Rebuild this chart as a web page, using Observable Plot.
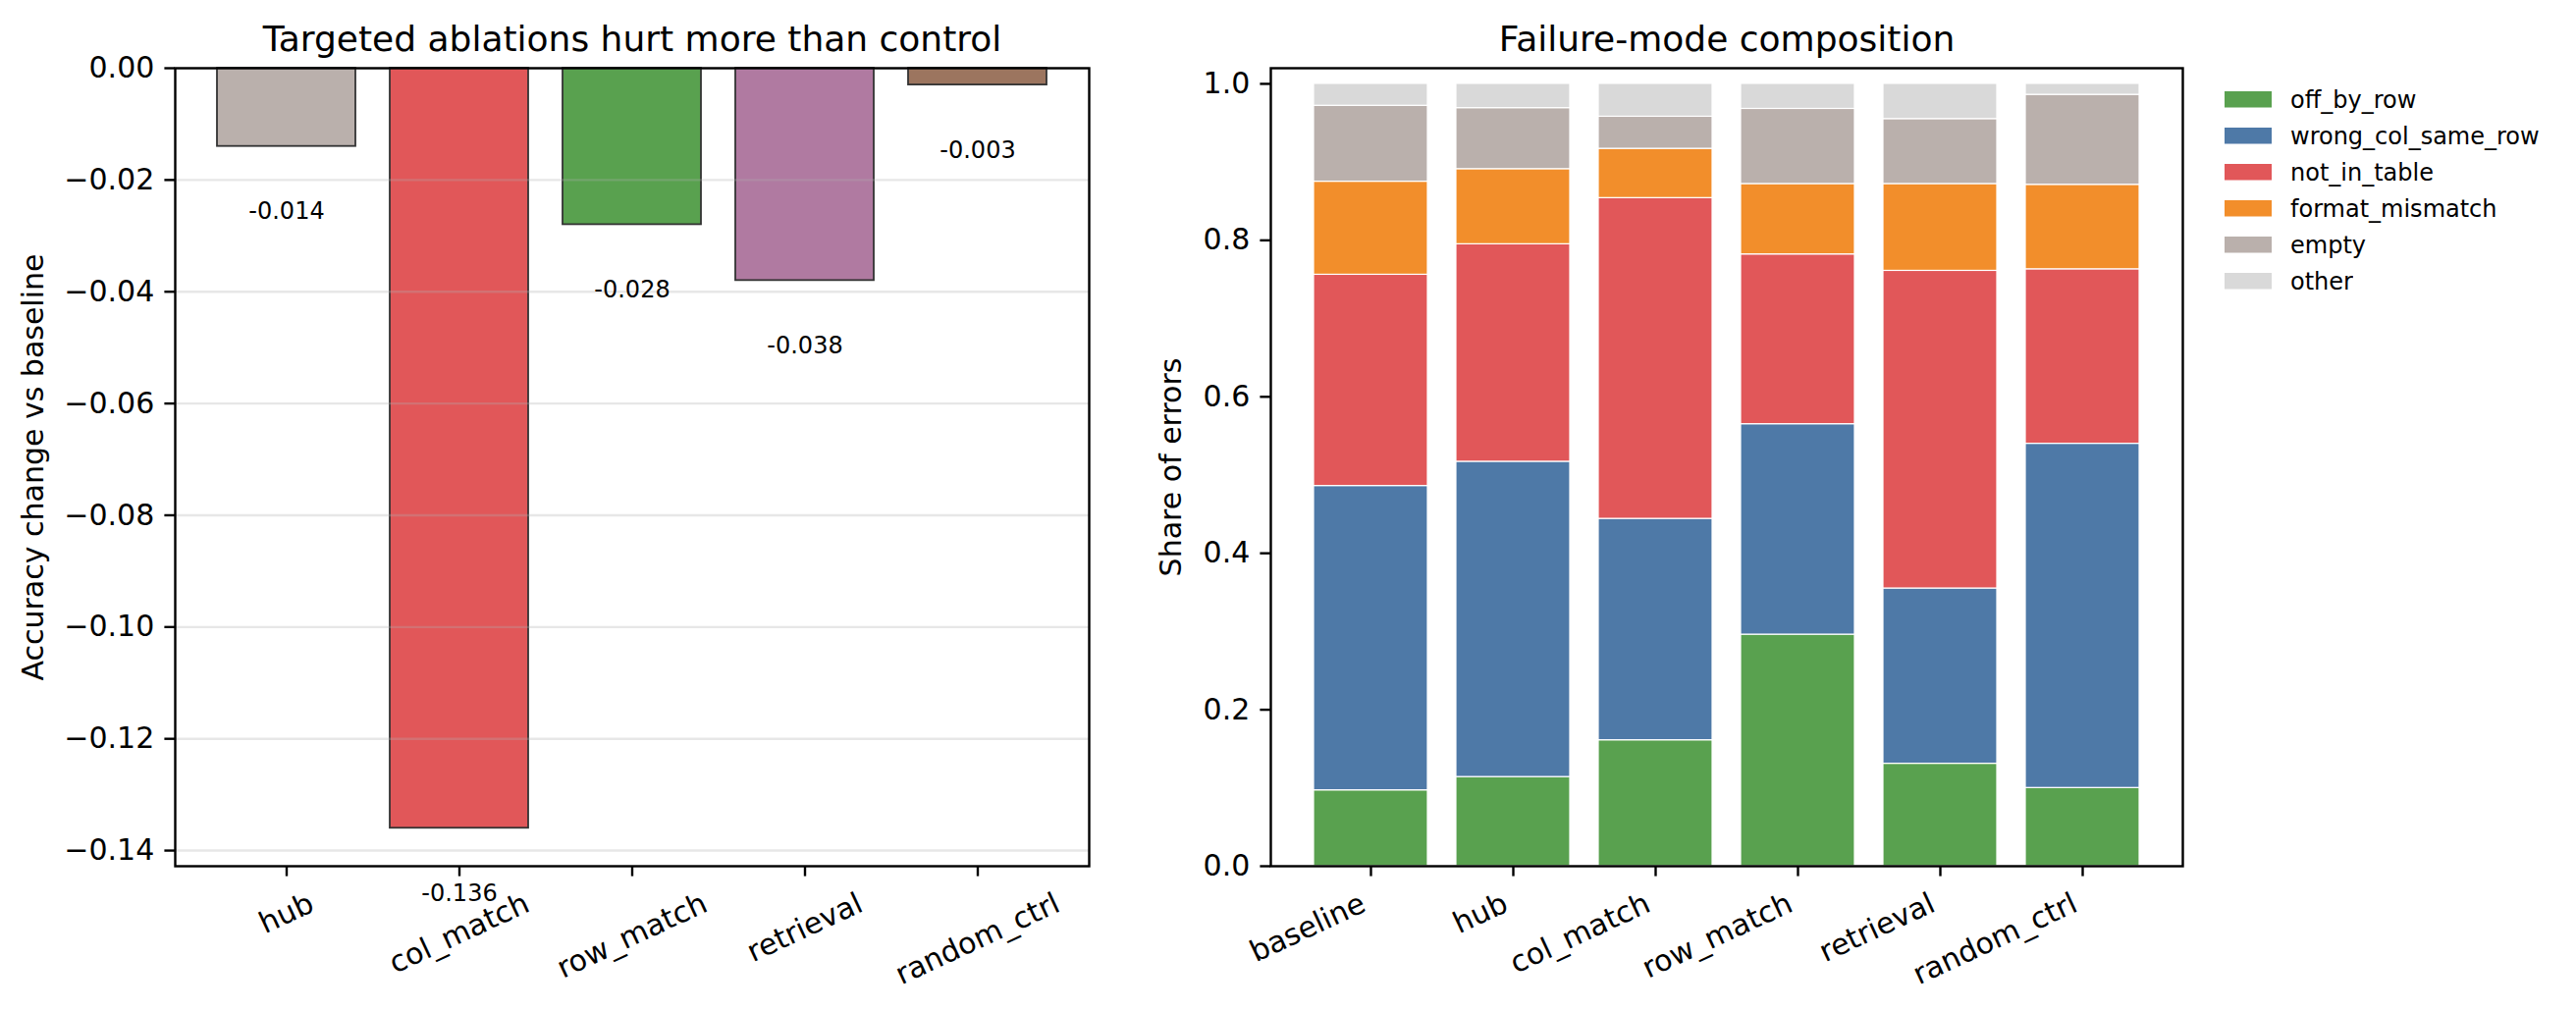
<!DOCTYPE html>
<html>
<head>
<meta charset="utf-8">
<script src="https://cdn.jsdelivr.net/npm/d3@7"></script>
<script src="https://cdn.jsdelivr.net/npm/@observablehq/plot@0.6"></script>
<style>
  html, body { margin: 0; padding: 0; background: #fff; }
  #page { position: relative; width: 2624px; height: 1030px; overflow: hidden; background: #fff; }
  #left, #right { position: absolute; top: 0; }
  #left { left: 0; }
  #right { left: 1130px; }
  #legend { position: absolute; left: 2266px; top: 83px; }
  #legend * { font-family: "DejaVu Sans", sans-serif !important; font-size: 24px !important; color: #000 !important; }
  #legend > div { margin: 0 !important; }
  .modes-swatch { height: 37px !important; display: flex !important; align-items: center !important; padding: 0 !important; margin: 0 !important; white-space: nowrap; }
  .modes-swatch > svg { margin-right: 19px !important; }
</style>
</head>
<body>
<div id="page">
  <div id="left"></div>
  <div id="right"></div>
  <div id="legend"></div>
</div>
<script>
// Accuracy change of each ablation relative to the unablated baseline
const ablations = ["hub", "col_match", "row_match", "retrieval", "random_ctrl"];
const accuracyDelta = [-0.014, -0.136, -0.028, -0.038, -0.003];
const deltaTicks = [0, -0.02, -0.04, -0.06, -0.08, -0.10, -0.12, -0.14];

// Share of each failure mode among the errors of every condition
const conditions = ["baseline", "hub", "col_match", "row_match", "retrieval", "random_ctrl"];
const failureModes = ["off_by_row", "wrong_col_same_row", "not_in_table", "format_mismatch", "empty", "other"];
const offByRow        = [0.097, 0.114, 0.161, 0.296, 0.131, 0.100];
const wrongColSameRow = [0.389, 0.403, 0.283, 0.269, 0.224, 0.440];
const notInTable      = [0.270, 0.278, 0.410, 0.217, 0.406, 0.223];
const formatMismatch  = [0.119, 0.096, 0.063, 0.090, 0.111, 0.108];
const emptyAnswer     = [0.097, 0.078, 0.041, 0.096, 0.083, 0.115];
const otherError      = [0.028, 0.031, 0.042, 0.032, 0.045, 0.014];
const shareTicks = [0, 0.2, 0.4, 0.6, 0.8, 1.0];

// Styling
const FONT = "'DejaVu Sans', sans-serif";
const ablationColours = ["#bab0ac", "#e15759", "#59a14f", "#b07aa1", "#9c755f"];
const modeColours = ["#59a14f", "#4e79a7", "#e15759", "#f28e2b", "#bab0ac", "#d9d9d9"];
const TITLE_SIZE = 36, LABEL_SIZE = 30, SMALL_SIZE = 24;
const TICK = 10.6, LINE = 2.4, ROTATE = -25;
const TICK_LABEL_TOP = 902; // top of the rotated tick-label boxes, below the axis

const deltaRows = ablations.map((a, i) => ({ablation: a, delta: accuracyDelta[i]}));
const modeShares = [offByRow, wrongColSameRow, notInTable, formatMismatch, emptyAnswer, otherError];
const shareRows = conditions.flatMap((c, i) =>
  failureModes.map((m, j) => ({condition: c, mode: m, share: modeShares[j][i]})));

const baseStyle = {fontFamily: FONT, fontSize: LABEL_SIZE + "px", color: "#000", background: "#fff", overflow: "visible"};

const left = Plot.plot({
  width: 1130, height: 1030,
  marginLeft: 178, marginRight: 21, marginTop: 69, marginBottom: 148,
  style: baseStyle,
  x: {domain: ablations, paddingInner: 0.2, paddingOuter: 0.24},
  y: {domain: [-0.1428, 0]},
  color: {domain: ablations, range: ablationColours},
  marks: [
    Plot.barY(deltaRows, {x: "ablation", y: "delta", fill: "ablation", stroke: "#333", strokeWidth: 1.8}),
    Plot.ruleY(deltaTicks, {stroke: "#b0b0b0", strokeOpacity: 0.3, strokeWidth: LINE}),
    Plot.text(deltaRows, {x: "ablation", y: d => d.delta - 0.01, text: d => d.delta.toFixed(3),
      lineAnchor: "top", fontSize: SMALL_SIZE, fill: "#000"}),
    Plot.axisY({ticks: deltaTicks, tickFormat: d3.format(".2f"), tickSize: TICK, tickPadding: TICK,
      strokeWidth: LINE, label: null}),
    Plot.axisX({tickSize: TICK, tickRotate: ROTATE, strokeWidth: LINE, label: null}),
    Plot.frame({stroke: "#000", strokeWidth: LINE}),
    Plot.text(["Targeted ablations hurt more than control"], {frameAnchor: "top", dy: -17.5,
      lineAnchor: "bottom", fontSize: TITLE_SIZE, fill: "#000"}),
    Plot.text(["Accuracy change vs baseline"], {frameAnchor: "left", dx: -135, rotate: -90,
      textAnchor: "middle", lineAnchor: "bottom", fontSize: LABEL_SIZE, fill: "#000"})
  ]
});
document.getElementById("left").appendChild(left);

const right = Plot.plot({
  width: 1494, height: 1030,
  marginLeft: 164, marginRight: 401, marginTop: 69, marginBottom: 148,
  style: baseStyle,
  x: {domain: conditions, paddingInner: 0.2, paddingOuter: 0.29},
  y: {domain: [0, 1.02]},
  color: {domain: failureModes, range: modeColours},
  marks: [
    Plot.barY(shareRows, Plot.stackY({x: "condition", y: "share", fill: "mode", order: failureModes,
      stroke: "#fff", strokeWidth: 1.2})),
    Plot.axisY({ticks: shareTicks, tickFormat: d3.format(".1f"), tickSize: TICK, tickPadding: TICK,
      strokeWidth: LINE, label: null}),
    Plot.axisX({tickSize: TICK, tickRotate: ROTATE, strokeWidth: LINE, label: null}),
    Plot.frame({stroke: "#000", strokeWidth: LINE}),
    Plot.text(["Failure-mode composition"], {frameAnchor: "top", dy: -17.5,
      lineAnchor: "bottom", fontSize: TITLE_SIZE, fill: "#000"}),
    Plot.text(["Share of errors"], {frameAnchor: "left", dx: -92, rotate: -90,
      textAnchor: "middle", lineAnchor: "bottom", fontSize: LABEL_SIZE, fill: "#000"})
  ]
});
document.getElementById("right").appendChild(right);

const legend = Plot.legend({
  color: {domain: failureModes, range: modeColours},
  legend: "swatches", columns: 1, swatchWidth: 48, swatchHeight: 16.5, className: "modes",
  style: {fontFamily: FONT, fontSize: SMALL_SIZE + "px", color: "#000"}
});
document.getElementById("legend").appendChild(legend);

// Align each rotated x tick label box to its tick: centred ("center") or ending at it ("right").
function placeTickLabels(plot, ha) {
  const x = plot.scale("x");
  const base = plot.getBoundingClientRect();
  const texts = plot.querySelectorAll('g[aria-label="x-axis tick label"] text');
  texts.forEach((t, i) => {
    if (t.dataset.t0 === undefined) t.dataset.t0 = t.getAttribute("transform") || "";
    t.setAttribute("transform", t.dataset.t0);
    const r = t.getBoundingClientRect();
    const tickX = x.apply(x.domain[i]) + x.bandwidth / 2;
    const l = r.left - base.left, rr = r.right - base.left, top = r.top - base.top;
    const dx = ha === "center" ? tickX - (l + rr) / 2 : tickX - rr;
    const dy = TICK_LABEL_TOP - top;
    t.setAttribute("transform", `translate(${dx},${dy}) ${t.dataset.t0}`);
  });
}
function layoutLabels() {
  placeTickLabels(left, "center");
  placeTickLabels(right, "right");
}
layoutLabels();
if (document.fonts && document.fonts.ready) document.fonts.ready.then(layoutLabels);
</script>
</body>
</html>
